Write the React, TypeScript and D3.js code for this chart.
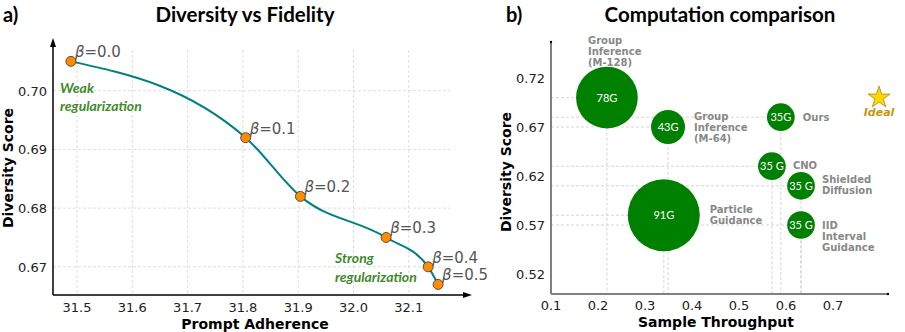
import * as d3 from "d3";

// Panel a) data
const betaLabels = ["0.0", "0.1", "0.2", "0.3", "0.4", "0.5"];
const adherence = [31.489, 31.805, 31.904, 32.059, 32.135, 32.153];
const diversityA = [0.705, 0.692, 0.682, 0.675, 0.67, 0.667];
const xTicksA = [31.5, 31.6, 31.7, 31.8, 31.9, 32.0, 32.1];
const yTicksA = [0.67, 0.68, 0.69, 0.7];

// Panel b) data
const methods = [
    "Group Inference (M-128)",
    "Group Inference (M-64)",
    "Ours",
    "CNO",
    "Shielded Diffusion",
    "Particle Guidance",
    "IID Interval Guidance",
];
const throughput = [0.219, 0.349, 0.589, 0.57, 0.632, 0.34, 0.632];
const diversityB = [0.7, 0.67, 0.68, 0.63, 0.61, 0.58, 0.57];
const memory = [78, 43, 35, 35, 35, 91, 35];
const memoryLabels = ["78G", "43G", "35G", "35 G", "35 G", "91G", "35 G"];
const ideal = { x: 0.798, y: 0.7 };
const xTicksB = [0.1, 0.2, 0.3, 0.4, 0.5, 0.6, 0.7];
const yTicksB = [0.52, 0.57, 0.62, 0.67, 0.72];

const tickFont = "DejaVu Sans, sans-serif";
const titleFont = "Lato, sans-serif";

const PanelA = () => {
    const left = 53;
    const right = 450;
    const top = 50;
    const bottom = 295;
    const x = d3.scaleLinear().domain([31.4566, 31.4566 + (right - left) / 553]).range([left, right]);
    const y = d3.scaleLinear().domain([0.6652, 0.6652 + (bottom - top) / 5870]).range([bottom, top]);
    const pts = adherence.map((a, i) => [x(a), y(diversityA[i])] as [number, number]);
    const line = d3.line().curve(d3.curveMonotoneX)(pts);

    return (
        <g>
            <text x={3} y={22} fontFamily={titleFont} fontWeight="bold" fontSize={20}>a)</text>
            <text x={245} y={22} textAnchor="middle" fontFamily={titleFont} fontWeight="bold" fontSize={20.5}>
                Diversity vs Fidelity
            </text>
            {/* grid */}
            {xTicksA.map((t) => (
                <line key={"gx" + t} x1={x(t)} x2={x(t)} y1={top} y2={bottom} stroke="#d5d5d5" strokeDasharray="3,2" strokeWidth={0.8} />
            ))}
            {yTicksA.map((t) => (
                <line key={"gy" + t} x1={left} x2={right} y1={y(t)} y2={y(t)} stroke="#d5d5d5" strokeDasharray="3,2" strokeWidth={0.8} />
            ))}
            {/* axes with arrows */}
            <line x1={left} x2={left} y1={bottom} y2={42} stroke="#000" strokeWidth={1.5} />
            <path d={`M${left - 3},${47} L${left},${38} L${left + 3},${47} Z`} fill="#000" />
            <line x1={left} x2={467} y1={bottom} y2={bottom} stroke="#000" strokeWidth={1.5} />
            <path d={`M${463},${bottom - 3} L${472},${bottom} L${463},${bottom + 3} Z`} fill="#000" />
            {xTicksA.map((t) => (
                <text key={"tx" + t} x={x(t)} y={bottom + 17} textAnchor="middle" fontFamily={tickFont} fontSize={13} fill="#222">
                    {t.toFixed(1)}
                </text>
            ))}
            {yTicksA.map((t) => (
                <text key={"ty" + t} x={left - 6} y={y(t) + 5} textAnchor="end" fontFamily={tickFont} fontSize={13} fill="#222">
                    {t.toFixed(2)}
                </text>
            ))}
            <text x={255} y={329} textAnchor="middle" fontFamily={tickFont} fontWeight="bold" fontSize={14}>
                Prompt Adherence
            </text>
            <text transform={`translate(13,168) rotate(-90)`} textAnchor="middle" fontFamily={tickFont} fontWeight="bold" fontSize={14}>
                Diversity Score
            </text>
            {/* curve */}
            <path d={line ?? ""} fill="none" stroke="#008080" strokeWidth={2} />
            {pts.map(([px, py], i) => (
                <g key={"p" + i}>
                    <circle cx={px} cy={py} r={5} fill="#ff8c00" stroke="#333" strokeWidth={0.8} />
                    <text x={px + 4} y={py - 4} fontFamily={tickFont} fontSize={15} fill="#555">
                        <tspan fontStyle="italic">β</tspan>={betaLabels[i]}
                    </text>
                </g>
            ))}
            <g fontFamily={titleFont} fontWeight="bold" fontStyle="italic" fontSize={14} fill="#3f8a2a">
                <text x={60} y={93}>Weak</text>
                <text x={60} y={111}>regularization</text>
                <text x={335} y={263}>Strong</text>
                <text x={335} y={282}>regularization</text>
            </g>
        </g>
    );
};

const labelOffsets = [
    { dx: -19, dy: -58, lines: ["Group", "Inference", "(M-128)"] },
    { dx: 26, dy: -11, lines: ["Group", "Inference", "(M-64)"] },
    { dx: 22, dy: 0, lines: ["Ours"] },
    { dx: 21, dy: -1, lines: ["CNO"] },
    { dx: 21, dy: -7, lines: ["Shielded", "Diffusion"] },
    { dx: 46, dy: -6, lines: ["Particle", "Guidance"] },
    { dx: 21, dy: 0, lines: ["IID", "Interval", "Guidance"] },
];

const PanelB = () => {
    const left = 551;
    const right = 888;
    const top = 42;
    const bottom = 294;
    const x = d3.scaleLinear().domain([0.1, 0.1 + (right - left) / 470]).range([left, right]);
    const y = d3.scaleLinear().domain([0.4996, 0.4996 + (bottom - top) / 980]).range([bottom, top]);
    const r = d3.scaleLinear().domain([0, 91]).range([0, 36]);

    return (
        <g>
            <text x={506} y={22} fontFamily={titleFont} fontWeight="bold" fontSize={20}>b)</text>
            <text x={720} y={22} textAnchor="middle" fontFamily={titleFont} fontWeight="bold" fontSize={20.5}>
                Computation comparison
            </text>
            {/* drop lines */}
            {methods.map((m, i) => (
                <g key={"d" + m}>
                    <line x1={left} x2={x(throughput[i])} y1={y(diversityB[i])} y2={y(diversityB[i])} stroke="#cccccc" strokeDasharray="3,2" strokeWidth={0.8} />
                    <line x1={x(throughput[i])} x2={x(throughput[i])} y1={y(diversityB[i])} y2={bottom} stroke="#cccccc" strokeDasharray="3,2" strokeWidth={0.8} />
                </g>
            ))}
            {/* axes */}
            <line x1={left} x2={left} y1={top} y2={bottom} stroke="#808080" strokeWidth={2} />
            <line x1={left} x2={right} y1={bottom} y2={bottom} stroke="#808080" strokeWidth={2} />
            <circle cx={left} cy={top} r={1.2} fill="#000" />
            <circle cx={right} cy={bottom} r={1.2} fill="#000" />
            {xTicksB.map((t) => (
                <text key={"tx" + t} x={x(t)} y={bottom + 16} textAnchor="middle" fontFamily={tickFont} fontSize={13} fill="#222">
                    {t.toFixed(1)}
                </text>
            ))}
            {yTicksB.map((t) => (
                <text key={"ty" + t} x={left - 6} y={y(t) + 5} textAnchor="end" fontFamily={tickFont} fontSize={13} fill="#222">
                    {t.toFixed(2)}
                </text>
            ))}
            <text x={716} y={327} textAnchor="middle" fontFamily={tickFont} fontWeight="bold" fontSize={14}>
                Sample Throughput
            </text>
            <text transform={`translate(511,172) rotate(-90)`} textAnchor="middle" fontFamily={tickFont} fontWeight="bold" fontSize={14}>
                Diversity Score
            </text>
            {/* bubbles */}
            {methods.map((m, i) => {
                const cx = x(throughput[i]);
                const cy = y(diversityB[i]);
                const o = labelOffsets[i];
                return (
                    <g key={"b" + m}>
                        <circle cx={cx} cy={cy} r={r(memory[i])} fill="#008000" />
                        <text x={cx} y={cy + 4} textAnchor="middle" fontFamily={titleFont} fontSize={11} fill="#fff">
                            {memoryLabels[i]}
                        </text>
                        {o.lines.map((l, j) => (
                            <text
                                key={l}
                                x={cx + o.dx}
                                y={cy + o.dy + 4 + j * 11}
                                fontFamily={tickFont}
                                fontWeight="bold"
                                fontSize={10}
                                fill="#888"
                            >
                                {l}
                            </text>
                        ))}
                    </g>
                );
            })}
            {/* ideal star */}
            <path
                d={d3.symbol().type(d3.symbolStar).size(150)() ?? ""}
                transform={`translate(${x(ideal.x)},${y(ideal.y)})`}
                fill="#ffd700"
                stroke="#8a6d00"
                strokeWidth={0.6}
            />
            <text x={x(ideal.x)} y={y(ideal.y) + 18} textAnchor="middle" fontFamily={tickFont} fontWeight="bold" fontStyle="italic" fontSize={11} fill="#c8960c">
                Ideal
            </text>
        </g>
    );
};

export default function App() {
    return (
        <svg width={905} height={332} style={{ position: "absolute", left: 0, top: 0, background: "#fff" }}>
            <PanelA />
            <PanelB />
        </svg>
    );
}
